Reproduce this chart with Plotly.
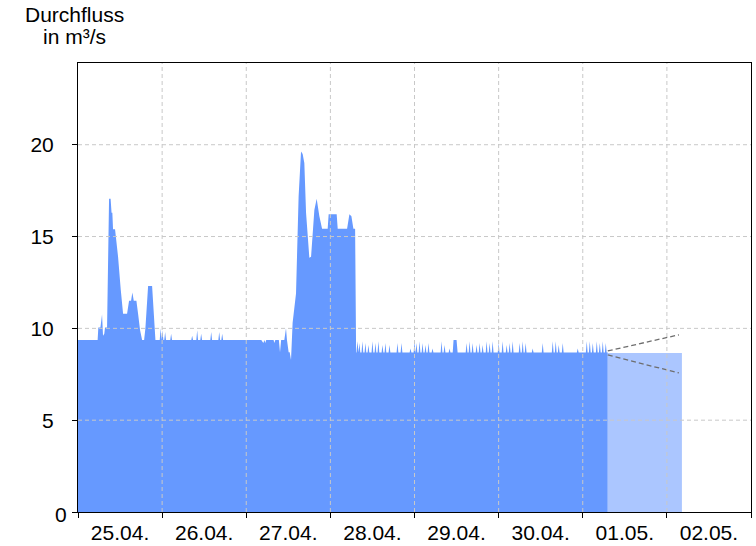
import pandas as pd
import plotly.graph_objects as go

start = pd.Timestamp("2024-04-25 00:00")

# Hauptverlauf: Stunden ab 25.04. 00:00 und Durchfluss in m³/s
verlauf_h = [0, 5.6, 5.8, 6.4, 6.86, 7.14, 7.5, 7.71, 8.29, 8.6,
             8.86, 9.3, 9.57, 9.8, 10.0, 10.57, 11.43, 12.2, 12.86, 14.0,
             14.57, 15.14, 15.51, 15.91, 16.66, 17.14, 17.71, 18.29, 18.86, 19.23,
             20.0, 21.14, 21.71, 22.09,
             52.3, 52.86, 53.2, 53.43, 53.7, 55.8, 56.0, 56.3, 57.3, 57.63,
             57.95, 58.86, 59.34, 59.6, 60.09, 60.4, 60.77, 61.23, 62.2, 62.94,
             63.63, 64.09, 64.57, 65.06, 66.0, 66.49, 67.43, 68.09, 68.86, 69.63,
             71.23, 71.51, 73.8, 74.09, 76.77, 77.43, 78.0, 78.57, 79.06, 79.34,
             106.9, 107.14, 108.0, 108.3, 151.14]
verlauf_q = [9.37, 9.37, 10.05, 10.05, 10.75, 9.6, 9.7, 10.05, 10.05, 13.5,
             17.06, 17.06, 16.3, 16.3, 15.4, 15.4, 13.9, 12.1, 10.8, 10.8,
             11.5, 11.5, 11.95, 11.5, 11.5, 10.8, 9.9, 9.37, 9.37, 10.0,
             12.3, 12.3, 10.5, 9.37,
             9.37, 9.2, 9.37, 9.2, 9.37, 9.37, 9.2, 9.37, 9.37, 8.7,
             9.37, 9.37, 10.0, 9.4, 8.7, 8.7, 8.28, 10.3, 11.9, 17.2,
             19.63, 19.5, 19.0, 16.3, 13.85, 13.9, 16.45, 17.06, 16.1, 15.42,
             15.42, 16.22, 16.22, 15.42, 15.42, 16.22, 16.1, 15.42, 15.42, 8.68,
             8.68, 9.37, 9.37, 8.68, 8.68]

# kurze Spitzen auf dem Grundniveau 9.37 (25.-27.04.)
basis1 = 9.37
spitzen1_h = [23.57, 24.1, 24.86, 26.57, 32.57, 34.0, 35.14, 38.0, 40.29, 41.14]
spitzen1_q = [10.0, 9.9, 9.8, 9.7, 9.6, 9.9, 9.7, 9.8, 9.8, 9.7]

# kurze Spitzen auf dem Grundniveau 8.68 (28.04.-01.05.)
basis2 = 8.68
spitzen2_h = [79.71, 80.29, 81.14, 82.0, 82.86, 84.0, 84.86, 85.71, 86.86, 87.71,
              88.86, 91.14, 92.29, 94.86, 96.0, 96.57, 97.43, 98.29, 99.14, 100.0,
              101.14, 103.71, 104.57, 106.0, 110.86, 111.71, 112.57, 113.71, 114.57, 115.43,
              116.57, 117.43, 118.29, 120.0, 121.14, 122.29, 123.14, 124.0, 126.0, 126.86,
              127.71, 129.71, 132.57, 135.43, 136.29, 137.14, 138.29, 142.57, 145.14, 146.0,
              146.86, 148.0, 148.86, 149.71, 150.57]
spitzen2_q = [9.3, 9.2, 9.3, 9.2, 9.1, 9.3, 9.2, 9.3, 9.1, 9.2,
              9.1, 9.2, 9.2, 8.9, 9.3, 9.2, 9.3, 9.2, 9.1, 9.2,
              8.9, 9.3, 9.1, 8.9, 9.2, 9.3, 9.2, 9.1, 9.2, 9.1,
              9.3, 9.2, 9.3, 9.2, 9.3, 9.1, 9.2, 9.3, 9.2, 9.3,
              9.2, 8.9, 9.2, 9.3, 9.3, 9.1, 9.2, 8.9, 9.3, 9.3,
              9.2, 9.3, 9.2, 9.3, 9.2]

# Vorhersage
prognose_h = [151.14, 172.29]
prognose_q = [8.66, 8.66]
band_h = [151.14, 171.43]
band_ober_q = [8.77, 9.65]
band_unter_q = [8.55, 7.57]

tag_labels_fmt = "%d.%m."
y_ticks = [0, 5, 10, 15, 20]
y_ticktext = ["", "5", "10", "15", "20"]
null_label = "0"
titel_zeilen = ["Durchfluss", "in m³/s"]
y_gitter = [5, 10, 15, 20]
tage = pd.date_range("2024-04-26", "2024-05-02", freq="D")

HALB = 0.25  # halbe Breite einer Spitze in Stunden
punkte = list(zip(verlauf_h, verlauf_q))
for basis, hs, qs in ((basis1, spitzen1_h, spitzen1_q), (basis2, spitzen2_h, spitzen2_q)):
    for h, q in zip(hs, qs):
        punkte += [(h - HALB, basis), (h, q), (h + HALB, basis)]
punkte.sort(key=lambda p: p[0])

def zeit(hs):
    return [start + pd.Timedelta(hours=h) for h in hs]

fig = go.Figure()
fig.add_trace(go.Scatter(
    x=zeit([p[0] for p in punkte]), y=[p[1] for p in punkte],
    mode="lines", line=dict(width=0, color="#6699ff"),
    fill="tozeroy", fillcolor="#6699ff", hoverinfo="skip"))
fig.add_trace(go.Scatter(
    x=zeit(prognose_h), y=prognose_q, mode="lines",
    line=dict(width=0, color="#abc6ff"), fill="tozeroy", fillcolor="#abc6ff",
    hoverinfo="skip"))
for qs in (band_ober_q, band_unter_q):
    fig.add_trace(go.Scatter(
        x=zeit(band_h), y=qs, mode="lines",
        line=dict(width=1.3, color="#6e6e6e", dash="5px,3px"), hoverinfo="skip"))

grid = dict(color="#c8c8c8", width=1, dash="4px,3px")
shapes = []
for y in y_gitter:
    shapes.append(dict(type="line", xref="paper", yref="y", x0=0, x1=1, y0=y, y1=y,
                       line=grid, layer="above"))
for t in tage:
    shapes.append(dict(type="line", xref="x", yref="paper", x0=t, x1=t, y0=0, y1=1,
                       line=grid, layer="above"))

font = "Liberation Sans, Arial, sans-serif"
annotations = [
    dict(text=titel_zeilen[0], xref="paper", yref="paper", x=-0.005, y=1,
         xanchor="center", yanchor="middle", yshift=49, showarrow=False,
         font=dict(size=21)),
    dict(text=titel_zeilen[1], xref="paper", yref="paper", x=-0.005, y=1,
         xanchor="center", yanchor="middle", yshift=27, showarrow=False,
         font=dict(size=21)),
    dict(text=null_label, xref="paper", yref="y", x=0, y=0,
         xanchor="right", yanchor="middle", xshift=-9, yshift=-2, showarrow=False,
         font=dict(size=21)),
]

fig.update_layout(
    width=756, height=546,
    margin=dict(l=78, r=5, t=63, b=34, autoexpand=False),
    plot_bgcolor="white", paper_bgcolor="white",
    showlegend=False,
    font=dict(family=font, size=21, color="black"),
    shapes=shapes,
    xaxis=dict(
        type="date", range=["2024-04-25", "2024-05-03"], automargin=False,
        tick0="2024-04-25", dtick=86400000, tickformat=tag_labels_fmt,
        ticklabelmode="period", ticks="outside", ticklen=5, tickcolor="black",
        showgrid=False, showline=True, linecolor="black", linewidth=1, mirror=True,
        zeroline=False, tickfont=dict(size=21), ticklabelstandoff=-3),
    yaxis=dict(
        range=[0, 24.45], tickvals=y_ticks, ticktext=y_ticktext, automargin=False,
        ticks="outside", ticklen=5, tickcolor="black",
        showgrid=False, showline=True, linecolor="black", linewidth=1, mirror=True,
        zeroline=False, tickfont=dict(size=21), ticklabelstandoff=14),
    annotations=annotations,
)
fig.write_html(
    "out.html",
    config={"displayModeBar": False, "staticPlot": True},
    post_script="document.body.style.margin='0';document.body.style.overflow='hidden';",
)
